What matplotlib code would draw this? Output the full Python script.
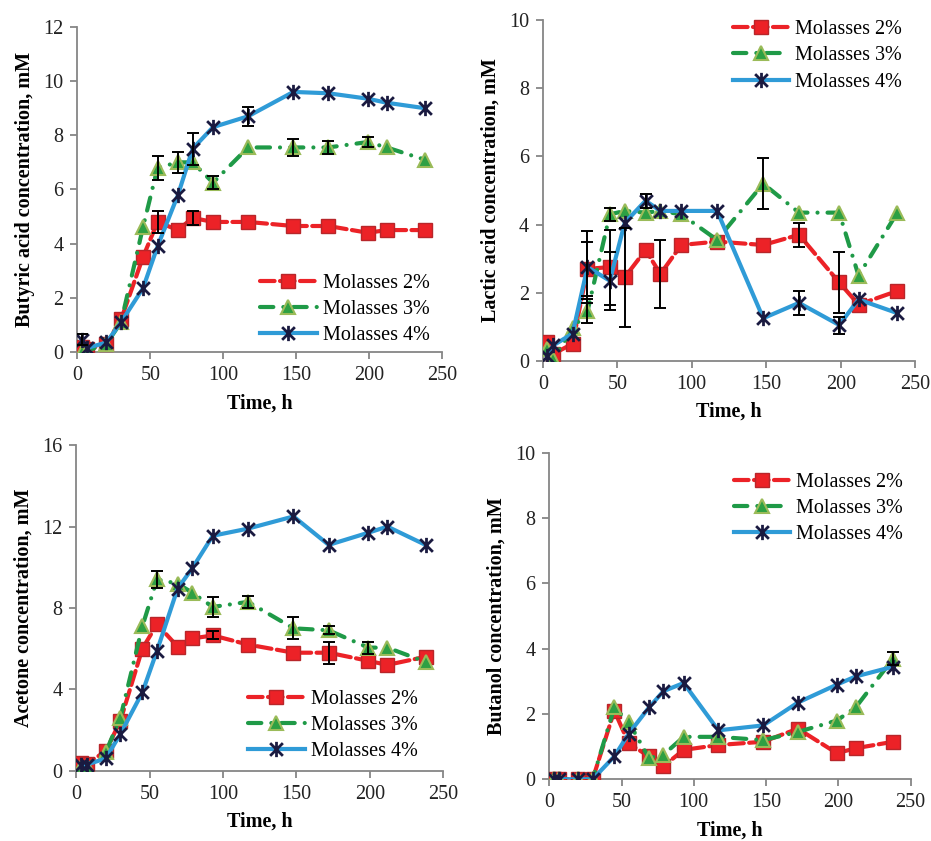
import matplotlib.pyplot as plt
import numpy as np
from matplotlib.path import Path

plt.rcParams['font.family'] = ['Liberation Serif', 'DejaVu Serif']

# sampling times (h)
time = [3, 7, 20, 30, 45, 55, 69, 79, 93, 117, 148, 172, 199, 212, 238]
labels = ["Molasses 2%", "Molasses 3%", "Molasses 4%"]

# butyric acid, mM
but_2 = [0.2, 0.1, 0.3, 1.2, 3.5, 4.8, 4.5, 4.95, 4.8, 4.8, 4.65, 4.65, 4.4, 4.5, 4.5]
but_3 = [0.0, 0.05, 0.3, 1.1, 4.6, 6.8, 7.0, 7.0, 6.25, 7.55, 7.55, 7.55, 7.75, 7.55, 7.1]
but_4 = [0.45, 0.15, 0.35, 1.1, 2.35, 3.9, 5.8, 7.5, 8.3, 8.7, 9.6, 9.55, 9.35, 9.2, 9.0]
but_2_err = [0, 0, 0, 0, 0, 0.4, 0, 0.25, 0, 0, 0, 0, 0, 0, 0]
but_3_err = [0, 0, 0, 0, 0, 0.45, 0.4, 0, 0.25, 0, 0.3, 0.25, 0.2, 0, 0]
but_4_err = [0.2, 0, 0, 0, 0, 0, 0, 0.6, 0, 0.35, 0, 0, 0, 0, 0]

# lactic acid, mM
lac_2 = [0.55, 0.2, 0.5, 2.7, 2.75, 2.45, 3.25, 2.55, 3.4, 3.5, 3.4, 3.7, 2.3, 1.65, 2.05]
lac_3 = [0.35, 0.05, 0.95, 1.45, 4.3, 4.4, 4.35, 4.4, 4.3, 3.55, 5.2, 4.35, 4.35, 2.5, 4.35]
lac_4 = [0.15, 0.45, 0.8, 2.75, 2.35, 4.05, 4.7, 4.4, 4.4, 4.4, 1.25, 1.7, 1.05, 1.8, 1.4]
lac_2_err = [0, 0, 0, 0.8, 1.1, 1.45, 0, 1.0, 0, 0, 0, 0.35, 0.9, 0, 0]
lac_3_err = [0, 0, 0, 0.35, 0.2, 0, 0, 0, 0, 0, 0.75, 0, 0, 0, 0]
lac_4_err = [0, 0, 0, 1.05, 0.85, 0, 0.2, 0, 0, 0, 0, 0.35, 0.25, 0, 0]

# acetone, mM
ace_2 = [0.4, 0.35, 0.95, 2.45, 6.0, 7.2, 6.1, 6.5, 6.65, 6.2, 5.8, 5.8, 5.4, 5.2, 5.6]
ace_3 = [0.2, 0.25, 0.9, 2.6, 7.1, 9.4, 9.2, 8.75, 8.05, 8.3, 7.0, 6.9, 6.05, 6.05, 5.35]
ace_4 = [0.3, 0.3, 0.6, 1.8, 3.85, 5.9, 8.95, 9.95, 11.55, 11.9, 12.5, 11.1, 11.7, 12.0, 11.1]
ace_2_err = [0, 0, 0, 0, 0, 0, 0, 0, 0.2, 0, 0, 0.55, 0, 0, 0]
ace_3_err = [0, 0, 0, 0, 0, 0.4, 0, 0, 0.5, 0.3, 0.55, 0.2, 0.3, 0, 0]
ace_4_err = [0] * 15

# butanol, mM
bol_2 = [0, 0, 0, 0, 2.1, 1.1, 0.7, 0.4, 0.9, 1.05, 1.15, 1.55, 0.8, 0.95, 1.15]
bol_3 = [0, 0, 0, 0, 2.2, 1.75, 0.65, 0.75, 1.3, 1.3, 1.2, 1.45, 1.8, 2.2, 3.7]
bol_4 = [0, 0, 0, 0, 0.7, 1.4, 2.2, 2.7, 2.95, 1.5, 1.65, 2.35, 2.9, 3.15, 3.45]
bol_2_err = [0] * 15
bol_3_err = [0] * 14 + [0.2]
bol_4_err = [0] * 15

star = Path([(-1, -1), (1, 1), (-1, 1), (1, -1), (0, -1.2), (0, 1.2)],
            [Path.MOVETO, Path.LINETO] * 3)

styles = [
    dict(color='#ec2227', lw=3, dashes=(3.5, 1.3), marker='s', ms=9.5,
         mfc='#ec2227', mec='#b8262a', mew=1),
    dict(color='#1f9a47', lw=3, dashes=(3.2, 2.4, 0.01, 2.4), marker='^', ms=10,
         mfc='#2ea043', mec='#9bbb59', mew=1.5),
    dict(color='#2f9bd7', lw=3, marker=star, ms=11,
         mfc='none', mec='#1a1a40', mew=2),
]

panels = [
    ([0.083, 0.5815, 0.392, 0.3865], (but_2, but_3, but_4), (but_2_err, but_3_err, but_4_err),
     12, 2, "Butyric acid concentration, mM", 'lower right', (0.965, 0.02)),
    ([0.583, 0.571, 0.400, 0.405], (lac_2, lac_3, lac_4), (lac_2_err, lac_3_err, lac_4_err),
     10, 2, "Lactic acid concentration, mM", 'upper right', (0.965, 1.0)),
    ([0.082, 0.0836, 0.394, 0.387], (ace_2, ace_3, ace_4), (ace_2_err, ace_3_err, ace_4_err),
     16, 4, "Acetone concentration, mM", 'lower right', (0.93, 0.03)),
    ([0.590, 0.0734, 0.388, 0.388], (bol_2, bol_3, bol_4), (bol_2_err, bol_3_err, bol_4_err),
     10, 2, "Butanol concentration, mM", 'upper right', (0.98, 0.94)),
]

fig = plt.figure(figsize=(9.31, 8.41), dpi=100)

for rect, series, errs, ymax, ystep, ylabel, loc, anchor in panels:
    ax = fig.add_axes(rect)
    for vals, err, st, lab in zip(series, errs, styles, labels):
        st = dict(st)
        dashes = st.pop('dashes', None)
        line, = ax.plot(time, vals, label=lab, zorder=3, **st)
        if dashes:
            line.set_dashes(dashes)
            line.set_dash_capstyle('round')
        e = np.array(err, dtype=float)
        m = e > 0
        if m.any():
            ax.errorbar(np.array(time)[m], np.array(vals)[m], yerr=e[m], fmt='none',
                        ecolor='black', elinewidth=1.4, capsize=4, capthick=1.4, zorder=4)
    ax.set_xlim(0, 250)
    ax.set_ylim(0, ymax)
    ax.set_xticks(np.arange(0, 251, 50))
    ax.set_yticks(np.arange(0, ymax + 0.1, ystep))
    for s in ['top', 'right']:
        ax.spines[s].set_visible(False)
    for s in ['left', 'bottom']:
        ax.spines[s].set_color('#868686')
        ax.spines[s].set_linewidth(1.3)
    ax.tick_params(direction='out', length=5, width=1.3, color='#868686',
                   labelsize=14.5, labelcolor='#222222', pad=5)
    ax.set_xlabel("Time, h", fontsize=14.5, fontweight='bold', labelpad=6)
    ax.set_ylabel(ylabel, fontsize=14.5, fontweight='bold', labelpad=6)
    ax.legend(loc=loc, bbox_to_anchor=anchor, frameon=False, fontsize=14.5,
              handlelength=2.8, handletextpad=0.3, labelspacing=0.35,
              borderaxespad=0, borderpad=0, numpoints=1)

plt.savefig("out.png", dpi=100)
plt.close()
